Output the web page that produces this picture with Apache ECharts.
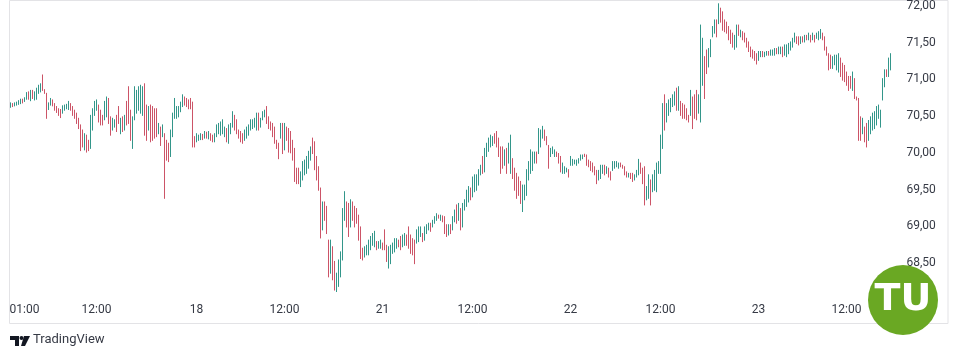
<!DOCTYPE html>
<html><head><meta charset="utf-8">
<script src="https://cdn.jsdelivr.net/npm/echarts@6/dist/echarts.min.js"></script>
<style>html,body{margin:0;padding:0;background:#fff}#c{width:958px;height:355px}</style>
</head><body><div id="c"></div>
<script>
// OHLC bars, 15-minute, [open, high, low, close]
const day17 = [
[70.63,70.68,70.62,70.67],[70.67,70.67,70.63,70.64],[70.64,70.68,70.64,70.67],[70.66,70.69,70.65,70.68],[70.68,70.71,70.66,70.70],
[70.69,70.73,70.67,70.72],[70.72,70.73,70.68,70.70],[70.71,70.75,70.70,70.74],[70.74,70.82,70.73,70.80],[70.79,70.83,70.73,70.76],
[70.76,70.85,70.71,70.82],[70.82,70.85,70.74,70.77],[70.77,70.83,70.72,70.81],[70.80,70.88,70.73,70.86],[70.85,70.92,70.81,70.90],
[70.90,70.94,70.83,70.92],[70.92,71.06,70.85,70.87],[70.86,70.86,70.81,70.82],[70.81,70.81,70.47,70.55],[70.59,70.68,70.59,70.66],
[70.66,70.74,70.65,70.72],[70.71,70.72,70.64,70.66],[70.66,70.67,70.58,70.60],[70.61,70.63,70.55,70.57],[70.57,70.60,70.51,70.53],
[70.53,70.59,70.48,70.50],[70.55,70.64,70.54,70.62],[70.60,70.65,70.58,70.63],[70.62,70.66,70.60,70.65],[70.62,70.70,70.59,70.68],
[70.67,70.67,70.58,70.60],[70.61,70.63,70.51,70.53],[70.53,70.58,70.47,70.49],[70.50,70.54,70.40,70.42],[70.43,70.47,70.33,70.35],
[70.36,70.38,70.03,70.10],[70.28,70.31,70.08,70.12],[70.08,70.26,70.04,70.20],[70.20,70.24,70.01,70.05],[70.14,70.17,70.03,70.06],
[70.08,70.51,70.06,70.48],[70.45,70.60,70.31,70.57],[70.56,70.70,70.51,70.68],[70.66,70.72,70.58,70.70],[70.64,70.65,70.42,70.45],
[70.46,70.58,70.38,70.40],[70.48,70.51,70.38,70.40],[70.45,70.70,70.45,70.66],[70.52,70.76,70.49,70.72],[70.72,70.74,70.40,70.44],
[70.45,70.49,70.24,70.28],[70.32,70.47,70.31,70.44],[70.38,70.45,70.35,70.42],[70.42,70.51,70.29,70.33],[70.50,70.63,70.40,70.42],
[70.28,70.47,70.26,70.44],[70.44,70.49,70.29,70.32],[70.33,70.51,70.31,70.48],[70.60,70.70,70.38,70.42],[70.85,70.90,70.40,70.45],
[70.45,70.58,70.17,70.22],[70.20,70.49,70.06,70.45],[70.47,70.90,70.45,70.85],[70.60,70.85,70.54,70.80],[70.62,70.90,70.58,70.86],
[70.60,70.92,70.54,70.88],[70.58,70.90,70.51,70.85],[70.88,70.94,70.24,70.30],[70.60,70.65,70.17,70.22],[70.35,70.63,70.31,70.58],
[70.60,70.65,70.15,70.20],[70.58,70.63,70.17,70.22],[70.55,70.60,70.20,70.25],[70.55,70.60,70.22,70.28],[70.28,70.40,70.26,70.38],
[70.33,70.35,70.10,70.14],[70.24,70.38,70.22,70.35],[70.24,70.26,69.38,69.95],[70.15,70.17,69.90,69.94],[70.10,70.13,69.88,69.92],
[69.97,70.31,69.95,70.28],[70.25,70.54,70.22,70.50],[70.50,70.74,70.47,70.70],[70.52,70.63,70.47,70.60],[70.52,70.63,70.49,70.60],
[70.58,70.69,70.56,70.66],[70.65,70.79,70.63,70.76],[70.75,70.76,70.65,70.67],[70.72,70.74,70.63,70.66],[70.70,70.72,70.60,70.62],
[70.72,70.74,70.60,70.65],[70.66,70.69,70.08,70.12],[70.20,70.22,70.08,70.10]
];
const day18 = [
[70.16,70.26,70.15,70.24],[70.18,70.24,70.17,70.22],[70.21,70.26,70.18,70.24],[70.22,70.25,70.18,70.20],[70.21,70.29,70.20,70.27],
[70.27,70.28,70.20,70.22],[70.22,70.29,70.19,70.26],[70.26,70.26,70.17,70.19],[70.22,70.24,70.15,70.17],[70.17,70.26,70.15,70.24],
[70.23,70.38,70.22,70.36],[70.30,70.40,70.26,70.38],[70.30,70.42,70.24,70.39],[70.32,70.45,70.26,70.42],[70.30,70.35,70.22,70.33],
[70.32,70.33,70.15,70.18],[70.16,70.38,70.13,70.35],[70.30,70.40,70.26,70.38],[70.37,70.56,70.35,70.53],[70.50,70.51,70.31,70.34],
[70.42,70.45,70.26,70.28],[70.30,70.31,70.20,70.22],[70.26,70.29,70.15,70.18],[70.24,70.26,70.13,70.15],[70.17,70.31,70.17,70.29],
[70.22,70.35,70.20,70.33],[70.26,70.38,70.24,70.36],[70.33,70.45,70.31,70.43],[70.33,70.45,70.33,70.42],[70.37,70.47,70.35,70.45],
[70.33,70.54,70.31,70.51],[70.52,70.54,70.31,70.34],[70.36,70.47,70.35,70.44],[70.46,70.56,70.45,70.54],[70.50,70.58,70.49,70.56],
[70.60,70.63,70.40,70.43],[70.47,70.49,70.33,70.36],[70.40,70.42,70.31,70.34],[70.38,70.40,70.22,70.25],[70.32,70.35,70.13,70.16],
[70.15,70.17,70.06,70.08],[70.10,70.13,69.92,69.95],[70.22,70.40,70.20,70.37],[70.37,70.40,69.99,70.05],[70.05,70.40,70.04,70.36],
[70.33,70.35,70.17,70.20],[70.30,70.33,70.01,70.05],[70.26,70.29,70.00,70.04],[70.15,70.17,69.90,69.95],[70.02,70.06,69.61,69.66],
[69.75,69.79,69.58,69.62],[69.75,69.79,69.58,69.62],[69.58,69.74,69.54,69.70],[69.66,69.88,69.63,69.85],[69.72,69.90,69.70,69.87],
[69.75,69.95,69.72,69.92],[69.82,70.02,69.79,69.99],[69.92,70.08,69.90,70.05],[70.17,70.20,69.99,70.02],[70.12,70.15,69.77,69.80],
[69.92,69.95,69.63,69.66],[69.78,69.81,69.49,69.52],[69.50,69.52,68.84,68.90],[68.98,69.33,68.95,69.28],[69.30,69.33,69.08,69.12],
[69.24,69.27,68.90,68.94],[68.78,68.81,68.31,68.36],[68.40,68.81,68.36,68.76],[68.69,68.72,68.27,68.31],[68.48,68.52,68.13,68.16],
[68.14,68.36,68.11,68.32],[68.22,68.54,68.18,68.50],[68.35,68.65,68.31,68.61],[68.58,69.24,68.54,69.20],[69.12,69.47,69.08,69.43],
[69.30,69.33,68.99,69.03],[69.28,69.31,68.86,68.90],[69.03,69.36,68.99,69.32],[69.30,69.33,69.08,69.12],[69.24,69.27,68.99,69.05],
[69.20,69.24,69.04,69.07],[69.12,69.15,68.81,68.85],[68.95,68.99,68.56,68.60],[68.67,68.70,68.54,68.57],[68.60,68.72,68.58,68.70],
[68.63,68.74,68.61,68.72],[68.64,68.81,68.61,68.78],[68.70,68.86,68.68,68.84],[68.76,68.90,68.74,68.88],[68.75,68.93,68.72,68.90],
[68.77,68.79,68.68,68.70],[68.72,68.79,68.70,68.77],[68.73,68.81,68.70,68.79]
];
const day21 = [
[68.76,68.77,68.68,68.70],[68.92,68.95,68.68,68.71],[68.71,68.74,68.52,68.55],[68.46,68.72,68.43,68.69],[68.52,68.74,68.49,68.71],
[68.66,68.77,68.63,68.75],[68.68,68.83,68.65,68.80],[68.73,68.83,68.70,68.81],[68.79,68.81,68.72,68.74],[68.84,68.86,68.68,68.70],
[68.74,68.88,68.72,68.85],[68.76,68.90,68.74,68.87],[68.86,68.88,68.74,68.77],[68.96,68.99,68.70,68.73],[68.85,68.88,68.63,68.66],
[68.80,68.83,68.61,68.64],[68.78,68.81,68.49,68.52],[68.79,68.95,68.77,68.92],[68.82,68.99,68.79,68.96],[68.88,68.99,68.86,68.97],
[68.88,68.90,68.79,68.82],[68.83,68.99,68.81,68.96],[68.92,69.02,68.90,69.00],[68.97,69.04,68.95,69.02],[69.02,69.04,68.93,68.96],
[69.00,69.08,68.99,69.06],[69.05,69.13,69.04,69.11],[69.10,69.17,69.08,69.15],[69.14,69.15,69.11,69.13],[69.12,69.15,69.08,69.14],
[69.14,69.14,69.06,69.08],[69.10,69.13,68.90,68.93],[69.00,69.02,68.86,68.89],[68.92,69.02,68.88,68.98],[69.00,69.02,68.90,68.92],
[68.96,69.13,68.95,69.11],[69.08,69.22,69.06,69.20],[69.27,69.29,69.04,69.08],[69.08,69.31,69.08,69.28],[69.22,69.24,68.95,68.99],
[69.00,69.31,68.99,69.28],[69.24,69.36,69.22,69.34],[69.30,69.49,69.27,69.46],[69.36,69.54,69.33,69.51],[69.50,69.52,69.36,69.40],
[69.42,69.67,69.40,69.64],[69.50,69.70,69.47,69.67],[69.55,69.70,69.49,69.66],[69.58,69.77,69.56,69.74],[69.72,69.83,69.70,69.81],
[69.92,69.95,69.72,69.75],[69.76,70.06,69.74,70.03],[69.97,70.13,69.95,70.10],[70.04,70.20,70.02,70.18],[70.10,70.24,70.08,70.22],
[70.12,70.22,70.10,70.20],[70.24,70.26,70.13,70.16],[70.27,70.29,70.08,70.11],[70.18,70.20,69.95,69.98],[70.06,70.08,69.72,69.76],
[70.06,70.08,69.79,69.82],[69.85,70.04,69.83,70.01],[70.06,70.06,69.72,69.76],[69.86,70.13,69.86,70.10],[69.75,70.24,69.72,70.20],
[69.90,69.92,69.65,69.68],[69.77,69.79,69.49,69.52],[69.70,69.72,69.38,69.42],[69.65,69.67,69.42,69.46],[69.58,69.61,69.31,69.34],
[69.23,69.56,69.20,69.52],[69.36,69.56,69.36,69.53],[69.45,69.77,69.42,69.74],[69.65,69.88,69.63,69.85],[69.75,70.04,69.72,70.01],
[69.80,70.01,69.76,69.98],[69.88,70.01,69.86,69.99],[69.98,70.01,69.86,69.89],[70.01,70.33,69.99,70.30],[70.10,70.31,70.08,70.28],
[70.22,70.36,70.20,70.34],[70.31,70.31,70.17,70.20],[70.22,70.22,70.11,70.13],[70.08,70.10,69.79,69.83],[69.96,70.06,69.95,70.04],
[70.00,70.08,69.99,70.06],[69.97,70.04,69.95,70.02],[70.01,70.01,69.95,69.97],[69.99,69.99,69.86,69.89],[69.93,69.95,69.74,69.77],
[69.74,69.86,69.72,69.84],[69.75,69.81,69.72,69.79],[69.76,69.79,69.74,69.77],[69.75,69.77,69.67,69.69]
];
const day22 = [
[69.84,69.95,69.83,69.93],[69.86,69.91,69.83,69.89],[69.87,69.90,69.85,69.88],[69.86,69.90,69.83,69.88],[69.87,69.92,69.86,69.90],
[69.91,69.97,69.90,69.96],[69.93,69.97,69.92,69.96],[69.97,69.98,69.95,69.96],[69.96,69.97,69.83,69.86],[69.88,69.90,69.81,69.83],
[69.86,69.88,69.76,69.78],[69.84,69.86,69.74,69.76],[69.80,69.81,69.70,69.72],[69.74,69.76,69.58,69.61],[69.64,69.76,69.63,69.74],
[69.66,69.83,69.65,69.80],[69.73,69.83,69.72,69.81],[69.80,69.83,69.70,69.73],[69.74,69.81,69.72,69.79],[69.79,69.79,69.67,69.69],
[69.74,69.74,69.63,69.65],[69.77,69.88,69.76,69.86],[69.79,69.88,69.79,69.86],[69.81,69.88,69.81,69.86],[69.80,69.86,69.79,69.84],
[69.85,69.86,69.81,69.82],[69.83,69.83,69.79,69.80],[69.81,69.81,69.70,69.72],[69.74,69.74,69.67,69.68],[69.67,69.72,69.67,69.70],
[69.71,69.72,69.65,69.67],[69.72,69.72,69.61,69.63],[69.63,69.70,69.63,69.68],[69.69,69.76,69.67,69.74],[69.72,69.91,69.70,69.88],
[69.86,69.86,69.72,69.74],[69.79,69.79,69.58,69.62],[69.78,69.81,69.29,69.34],[69.38,69.54,69.36,69.51],[69.40,69.70,69.38,69.66],
[69.60,69.63,69.29,69.33],[69.49,69.70,69.47,69.67],[69.52,69.76,69.49,69.73],[69.50,69.86,69.47,69.83],[69.74,69.88,69.72,69.86],
[69.75,70.24,69.72,70.20],[70.10,70.67,70.06,70.62],[70.75,70.79,70.31,70.35],[70.44,70.67,70.42,70.64],[70.53,70.72,70.51,70.70],
[70.58,70.74,70.56,70.72],[70.64,70.79,70.63,70.77],[70.67,70.83,70.65,70.81],[70.82,70.88,70.58,70.61],[70.60,70.90,70.58,70.87],
[70.68,70.70,70.51,70.54],[70.65,70.67,70.47,70.50],[70.63,70.65,70.47,70.49],[70.60,70.60,70.45,70.48],[70.50,70.51,70.42,70.44],
[70.53,70.85,70.51,70.82],[70.74,70.76,70.33,70.37],[70.76,70.79,70.47,70.50],[70.82,70.85,70.45,70.48],[70.56,70.79,70.54,70.76],
[70.45,71.74,70.42,71.70],[70.95,71.56,70.92,71.52],[71.28,71.31,70.74,70.78],[71.38,71.40,71.08,71.11],[71.19,71.42,71.17,71.40],
[71.33,71.54,71.31,71.52],[71.60,71.72,71.58,71.70],[71.65,71.81,71.63,71.79],[71.80,71.81,71.58,71.61],[71.78,72.03,71.76,71.99],
[71.95,71.97,71.78,71.80],[71.90,71.92,71.67,71.70],[71.79,71.81,71.65,71.67],[71.76,71.78,71.63,71.65],[71.70,71.72,71.54,71.56],
[71.65,71.67,71.49,71.52],[71.61,71.63,71.44,71.47],[71.43,71.60,71.41,71.57],[71.46,71.74,71.44,71.71],[71.72,71.74,71.60,71.62],
[71.60,71.67,71.58,71.65],[71.64,71.65,71.54,71.56],[71.61,71.63,71.51,71.53],[71.54,71.56,71.44,71.46],[71.49,71.51,71.38,71.40],
[71.42,71.44,71.31,71.33],[71.38,71.40,71.29,71.31],[71.36,71.38,71.26,71.28],[71.33,71.35,71.21,71.23]
];
const day23 = [
[71.27,71.38,71.26,71.36],[71.32,71.38,71.31,71.36],[71.36,71.38,71.31,71.33],[71.32,71.37,71.31,71.35],[71.34,71.38,71.33,71.37],
[71.37,71.38,71.33,71.35],[71.34,71.40,71.33,71.38],[71.36,71.40,71.33,71.39],[71.35,71.42,71.33,71.40],[71.40,71.42,71.35,71.37],
[71.37,71.44,71.35,71.42],[71.38,71.44,71.35,71.42],[71.42,71.44,71.31,71.34],[71.34,71.47,71.33,71.45],[71.33,71.47,71.31,71.45],
[71.37,71.49,71.35,71.47],[71.42,71.51,71.40,71.49],[71.46,71.56,71.44,71.54],[71.52,71.63,71.51,71.61],[71.58,71.58,71.49,71.51],
[71.56,71.58,71.47,71.50],[71.50,71.58,71.49,71.56],[71.55,71.58,71.51,71.53],[71.53,71.60,71.51,71.58],[71.58,71.60,71.54,71.55],
[71.55,71.63,71.54,71.61],[71.60,71.60,71.51,71.53],[71.54,71.63,71.54,71.60],[71.59,71.60,71.51,71.53],[71.57,71.63,71.56,71.61],
[71.56,71.65,71.54,71.63],[71.58,71.68,71.56,71.66],[71.62,71.63,71.54,71.56],[71.57,71.58,71.40,71.43],[71.43,71.44,71.33,71.35],
[71.33,71.35,71.13,71.16],[71.30,71.33,71.15,71.17],[71.17,71.31,71.15,71.29],[71.22,71.33,71.20,71.31],[71.17,71.33,71.13,71.30],
[71.12,71.35,71.10,71.33],[71.27,71.29,71.04,71.07],[71.20,71.22,70.99,71.02],[71.17,71.19,70.97,71.00],[71.08,71.10,70.92,70.95],
[71.02,71.04,70.85,70.88],[71.02,71.04,70.88,70.90],[70.86,71.10,70.85,71.07],[70.99,71.01,70.74,70.77],[70.76,70.76,70.72,70.73],
[70.73,70.74,70.17,70.20],[70.46,70.49,70.17,70.20],[70.28,70.47,70.26,70.44],[70.33,70.35,70.15,70.18],[70.38,70.40,70.08,70.12],
[70.20,70.44,70.17,70.41],[70.28,70.49,70.26,70.46],[70.33,70.54,70.31,70.51],[70.35,70.56,70.33,70.53],[70.40,70.63,70.38,70.60],
[70.49,70.65,70.47,70.62],[70.37,70.58,70.35,70.55],[70.74,71.01,70.72,70.98],[70.92,71.13,70.90,71.10],[71.12,71.13,71.04,71.06],
[71.06,71.29,71.04,71.26],[71.15,71.35,71.13,71.32]
];
const days = [['17', day17], ['18', day18], ['21', day21], ['22', day22], ['23', day23]];
// time-axis labels and the bar they sit under
const tickIndex = [7, 43, 93, 137, 186, 231, 280, 325, 374, 418];
const tickText = ['01:00', '12:00', '18', '12:00', '21', '12:00', '22', '12:00', '23', '12:00'];
// price axis
const priceMin = 68, priceMax = 72.08, priceStep = 0.5;

const UP = '#33968a', DOWN = '#cc5467';

const categories = [];
const data = [];
days.forEach(([d, arr]) => arr.forEach((b, k) => {
  data.push([categories.length, b[0], b[1], b[2], b[3]]);
  categories.push(d + ' #' + k);
}));
const N = categories.length;
const tickMap = {};
tickIndex.forEach((ix, j) => { tickMap[ix] = tickText[j]; });

const chart = echarts.init(document.getElementById('c'), null, { renderer: 'canvas' });
const fontFam = 'Roboto, "Open Sans", sans-serif';
chart.setOption({
  animation: false,
  backgroundColor: '#ffffff',
  grid: { left: 9.5, top: 0, width: N * 2, height: 299.6, containLabel: false },
  xAxis: {
    type: 'category', data: categories, boundaryGap: true,
    axisLine: { show: false }, axisTick: { show: false }, splitLine: { show: false },
    axisLabel: {
      interval: (i) => tickMap[i] !== undefined,
      formatter: (v, i) => tickMap[i] || '',
      color: '#363a45', fontSize: 12, fontFamily: fontFam, margin: 4
    }
  },
  yAxis: {
    type: 'value', position: 'right', min: priceMin, max: priceMax, interval: priceStep,
    axisLine: { show: false }, axisTick: { show: false }, splitLine: { show: false },
    axisLabel: {
      margin: 15, color: '#363a45', fontSize: 12, fontFamily: fontFam, align: 'left',
      formatter: (v) => {
        if (Math.abs(v * 2 - Math.round(v * 2)) > 1e-6 || v < 68.2) return '';
        return v.toFixed(2).replace('.', ',');
      }
    }
  },
  series: [{
    type: 'custom', clip: true,
    encode: { x: 0, y: [2, 3] },
    data: data,
    renderItem: (params, api) => {
      const idx = api.value(0);
      const hi = api.coord([idx, api.value(2)]);
      const lo = api.coord([idx, api.value(3)]);
      const up = api.value(4) >= api.value(1);
      return {
        type: 'line',
        shape: { x1: hi[0], y1: hi[1] - 0.5, x2: lo[0], y2: lo[1] + 0.5 },
        style: { stroke: up ? UP : DOWN, lineWidth: 1 }
      };
    }
  }],
  graphic: [
    { type: 'rect', silent: true, z: -1, shape: { x: 9.5, y: 0.5, width: 938.5, height: 323 }, style: { fill: null, stroke: '#e3e3e6', lineWidth: 1 } },
    { type: 'polygon', silent: true, shape: { points: [[10, 336], [19, 336], [19, 346], [15, 346], [15, 340], [10, 340]] }, style: { fill: '#131722' } },
    { type: 'circle', silent: true, shape: { cx: 21.5, cy: 338, r: 2 }, style: { fill: '#131722' } },
    { type: 'polygon', silent: true, shape: { points: [[24, 336], [30, 336], [25, 346], [21, 346]] }, style: { fill: '#131722' } },
    { type: 'text', silent: true, left: 33, top: 333, style: { text: 'TradingView', fill: '#363a45', font: '13px Roboto, "Open Sans", sans-serif' } },
    { type: 'circle', silent: true, z: 100, shape: { cx: 903, cy: 300, r: 35 }, style: { fill: '#6aa823' } },
    { type: 'text', silent: true, z: 101, x: 903, y: 300, style: { text: 'TU', fill: '#ffffff', font: 'bold 38px "DejaVu Sans", sans-serif', align: 'center', verticalAlign: 'middle' } }
  ]
});
</script></body></html>
